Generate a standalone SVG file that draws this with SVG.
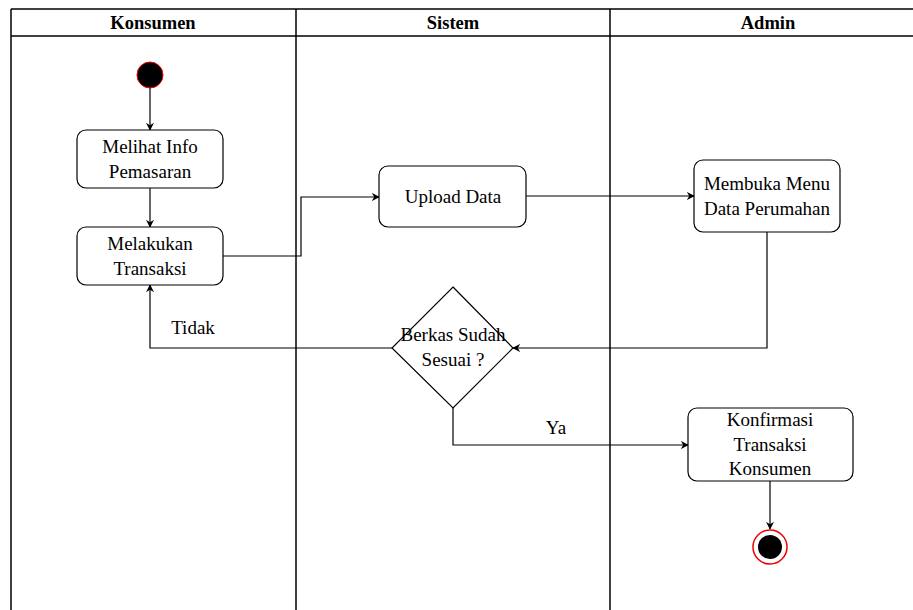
<svg xmlns="http://www.w3.org/2000/svg" width="913" height="610" viewBox="0 0 913 610">
  <style>
    .lane { fill: none; stroke: #000; stroke-width: 1.5; }
    .head { font-family: "Liberation Serif", "DejaVu Serif", serif; font-size: 18.5px; font-weight: bold; fill: #000; text-anchor: middle; }
    .box { fill: #fff; stroke: #000; stroke-width: 1.2; }
    .lbl { font-family: "Liberation Serif", "DejaVu Serif", serif; font-size: 19px; fill: #000; text-anchor: middle; }
    .edge { fill: none; stroke: #000; stroke-width: 1.2; }
  </style>
  <defs>
    <marker id="arrow" viewBox="0 0 10 10" refX="9" refY="5" markerWidth="8" markerHeight="8" markerUnits="userSpaceOnUse" orient="auto">
      <path d="M0,0 L10,5 L0,10 L3,5 z" fill="#000"/>
    </marker>
  </defs>

  <rect width="913" height="610" fill="#fff"/>

  <!-- swimlane frame -->
  <g id="lanes">
    <line class="lane" x1="11" y1="9" x2="913" y2="9"/>
    <line class="lane" x1="11" y1="36" x2="913" y2="36"/>
    <line class="lane" x1="11" y1="9" x2="11" y2="610"/>
    <line class="lane" x1="296" y1="9" x2="296" y2="610"/>
    <line class="lane" x1="610" y1="9" x2="610" y2="610"/>
    <text class="head" x="153" y="29">Konsumen</text>
    <text class="head" x="453" y="29">Sistem</text>
    <text class="head" x="768" y="29">Admin</text>
  </g>

  <!-- connectors -->
  <g id="connectors">
    <path class="edge" d="M150,88 L150,130" marker-end="url(#arrow)"/>
    <path class="edge" d="M150,188 L150,227" marker-end="url(#arrow)"/>
    <path class="edge" d="M223,256 L301,256 L301,197 L379,197" marker-end="url(#arrow)"/>
    <path class="edge" d="M526,196 L694,196" marker-end="url(#arrow)"/>
    <path class="edge" d="M767,232 L767,348 L513,348" marker-end="url(#arrow)"/>
    <path class="edge" d="M392,348 L150,348 L150,285" marker-end="url(#arrow)"/>
    <path class="edge" d="M453,408 L453,445 L688,445" marker-end="url(#arrow)"/>
    <path class="edge" d="M770,481 L770,529" marker-end="url(#arrow)"/>
    <text class="lbl" x="193" y="334">Tidak</text>
    <text class="lbl" x="556" y="434">Ya</text>
  </g>

  <g id="start">
    <circle cx="150" cy="75" r="13" fill="#000" stroke="#e00" stroke-width="1"/>
  </g>

  <g id="melihat-info">
    <rect class="box" x="77" y="130" width="146" height="58" rx="9"/>
    <text class="lbl" x="150" y="153">Melihat Info</text>
    <text class="lbl" x="150" y="178">Pemasaran</text>
  </g>

  <g id="melakukan-transaksi">
    <rect class="box" x="77" y="227" width="146" height="58" rx="9"/>
    <text class="lbl" x="150" y="250">Melakukan</text>
    <text class="lbl" x="150" y="275">Transaksi</text>
  </g>

  <g id="upload-data">
    <rect class="box" x="379" y="166" width="147" height="61" rx="9"/>
    <text class="lbl" x="453" y="203">Upload Data</text>
  </g>

  <g id="membuka-menu">
    <rect class="box" x="694" y="160" width="146" height="72" rx="9"/>
    <text class="lbl" x="767" y="190">Membuka Menu</text>
    <text class="lbl" x="767" y="215">Data Perumahan</text>
  </g>

  <g id="berkas-sesuai">
    <polygon class="box" points="453,287 513,348 453,408 392,348"/>
    <text class="lbl" x="453" y="341">Berkas Sudah</text>
    <text class="lbl" x="453" y="366">Sesuai ?</text>
  </g>

  <g id="konfirmasi">
    <rect class="box" x="688" y="408" width="165" height="73" rx="9"/>
    <text class="lbl" x="770" y="426">Konfirmasi</text>
    <text class="lbl" x="770" y="451">Transaksi</text>
    <text class="lbl" x="770" y="475">Konsumen</text>
  </g>

  <g id="end">
    <circle cx="770" cy="547" r="17" fill="#fff" stroke="#e00" stroke-width="1.5"/>
    <circle cx="770" cy="547" r="12" fill="#000"/>
  </g>
</svg>
